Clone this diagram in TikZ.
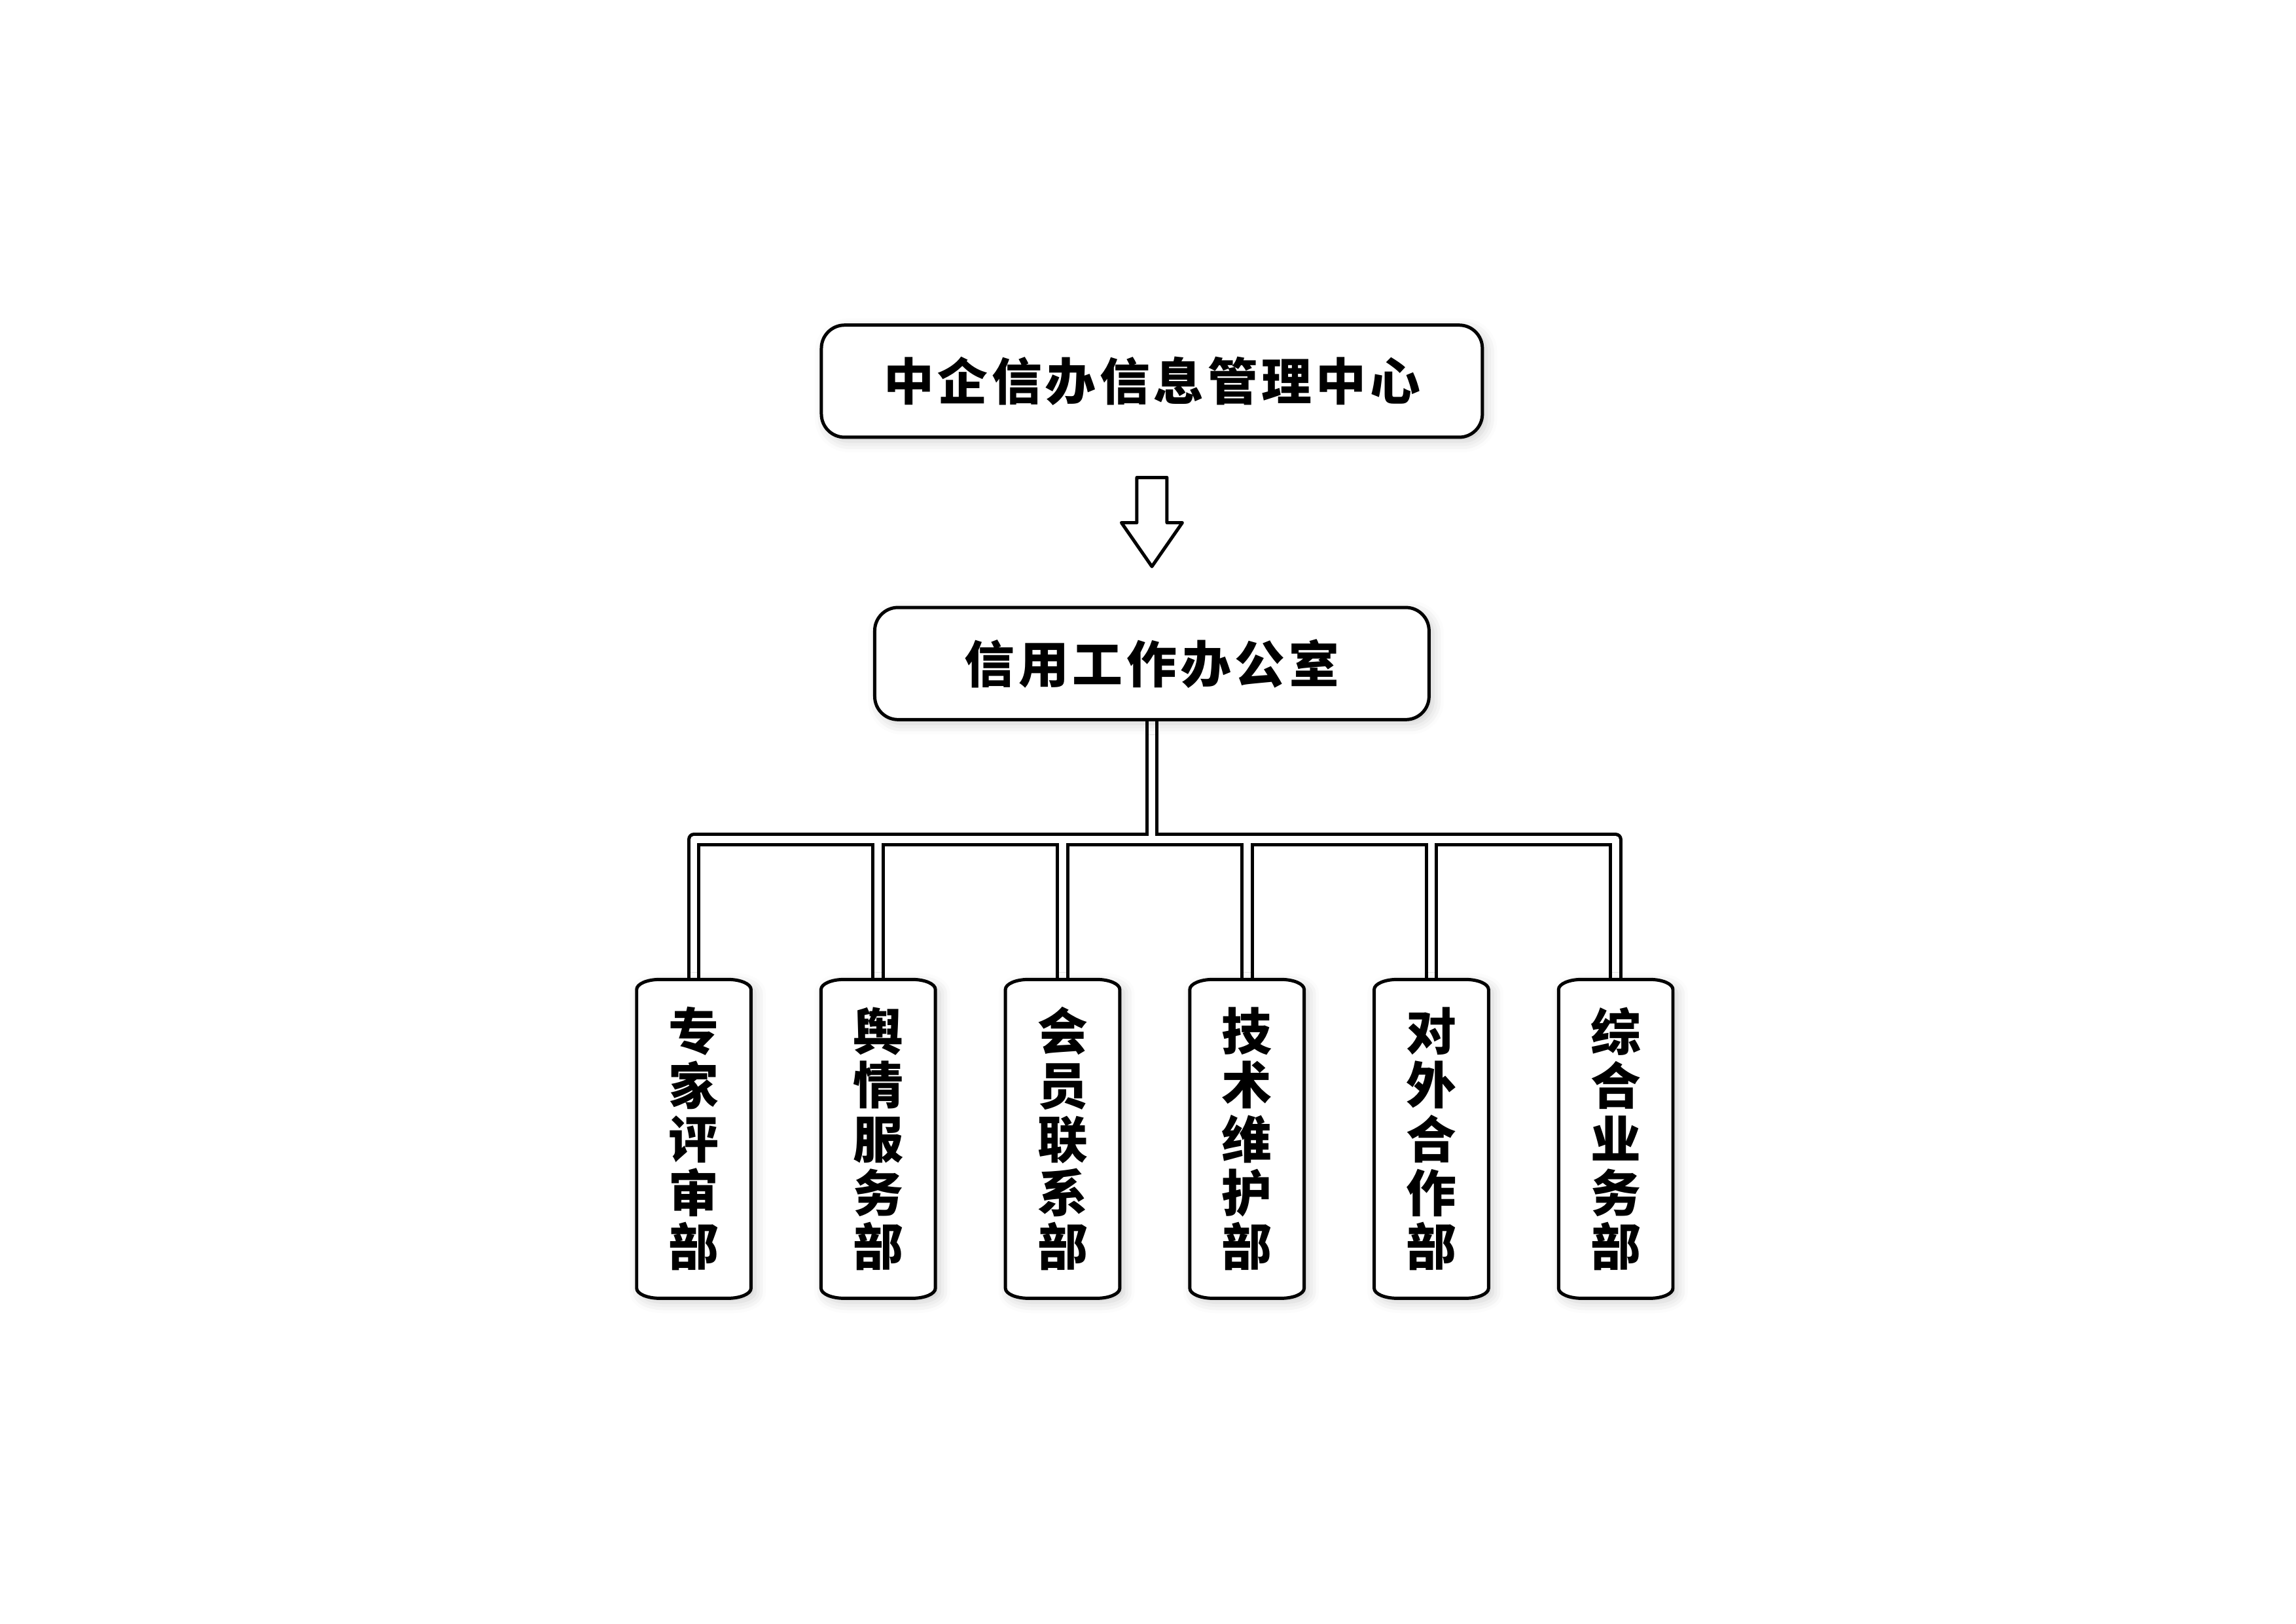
\documentclass[tikz,border=0pt]{standalone}
\usepackage{fontspec}
\usepackage{tikz}
\usetikzlibrary{positioning,calc,shadows.blur,backgrounds}
\newfontfamily\cjk{Noto Sans CJK SC}[LetterSpace=7.5]
\tikzset{
	office/.style={
			draw, line width=1.2pt, fill=white, rounded corners=0.3cm,
			minimum height=1.45cm, inner sep=0pt,
			font=\cjk\bfseries\fontsize{18.5}{19}\selectfont,
			blur shadow={shadow xshift=1.5pt, shadow yshift=-1.5pt, shadow opacity=20, shadow blur radius=4pt}
		},
	dept/.style={
			minimum width=1.465cm, minimum height=4.11cm, inner sep=0pt,
			align=center, font=\cjk\bfseries\fontsize{18.5}{19.8}\selectfont
		},
	deptline/.style={
			draw, line width=1.2pt, fill=white,
			blur shadow={shadow xshift=1.5pt, shadow yshift=-1.5pt, shadow opacity=20, shadow blur radius=4pt}
		},
	pipe/.style={draw=black, line width=1.2pt, double=white, double distance=2.6pt, line join=round},
	blockarrow/.style={draw, line width=1.2pt, fill=white, line join=round}
}
% outline of a department box, flat rounded corners
\newcommand{\deptoutline}[1]{%
	\path[deptline] ($(#1.north west)+(0,-0.13)$)
		arc[start angle=180, end angle=90, x radius=0.3cm, y radius=0.13cm]
		-- ($(#1.north east)+(-0.3,0)$)
		arc[start angle=90, end angle=0, x radius=0.3cm, y radius=0.13cm]
		-- ($(#1.south east)+(0,0.13)$)
		arc[start angle=0, end angle=-90, x radius=0.3cm, y radius=0.13cm]
		-- ($(#1.south west)+(0.3,0)$)
		arc[start angle=270, end angle=180, x radius=0.3cm, y radius=0.13cm]
		-- cycle;}

\begin{document}
\begin{tikzpicture}

	\useasboundingbox (0,0) rectangle (29.7,-21);

	% Draw the two offices
	\node[office, minimum width=8.55cm] (top) at (14.90,-4.93) {中企信办信息管理中心};
	\node[office, minimum width=7.17cm, below=2.16cm of top] (mid) {信用工作办公室};

	% Draw the block arrow between them
	\coordinate (arrtop) at ($(top.south)+(0,-0.5)$);
	\draw[blockarrow] ($(arrtop)+(-0.195,0)$) -- ++(0,-0.584) -- ++(-0.199,0)
		-- ($(arrtop)+(0,-1.151)$) -- ($(arrtop)+(0.394,-0.584)$) -- ++(-0.199,0)
		-- ($(arrtop)+(0.195,0)$) -- cycle;

	% Draw the departments
	\node[dept] (d1) at (8.975,-14.73) {专\\家\\评\\审\\部};
	\node[dept, right=0.906cm of d1] (d2) {舆\\情\\服\\务\\部};
	\node[dept, right=0.906cm of d2] (d3) {会\\员\\联\\系\\部};
	\node[dept, right=0.906cm of d3] (d4) {技\\术\\维\\护\\部};
	\node[dept, right=0.906cm of d4] (d5) {对\\外\\合\\作\\部};
	\node[dept, right=0.906cm of d5] (d6) {综\\合\\业\\务\\部};

	\coordinate (bar) at ($(mid.south)+(0,-1.53)$);

	\begin{scope}[on background layer]
		% Draw the double connectors
		\draw[pipe] (d1.north) |- (bar) -| (d6.north)
			(mid.south) -- (bar)
			(d2.north) -- (d2.north |- bar)
			(d3.north) -- (d3.north |- bar)
			(d4.north) -- (d4.north |- bar)
			(d5.north) -- (d5.north |- bar);

		% Draw the department boxes
		\deptoutline{d1}
		\deptoutline{d2}
		\deptoutline{d3}
		\deptoutline{d4}
		\deptoutline{d5}
		\deptoutline{d6}
	\end{scope}
\end{tikzpicture}
\end{document}
